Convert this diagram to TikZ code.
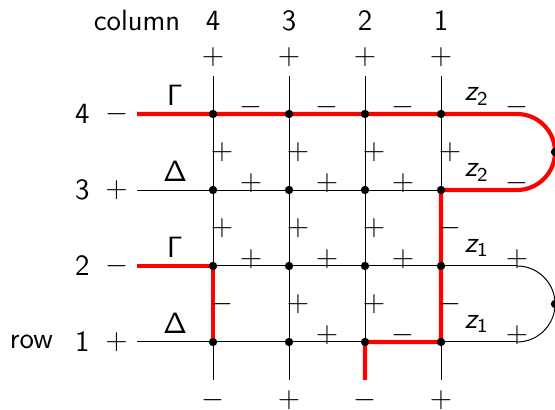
\documentclass[tikz,border=0pt]{standalone}
\usepackage{amsmath}
\renewcommand{\familydefault}{\sfdefault}
\tikzstyle{grid-line} = [black, line width=0.4pt]
\tikzstyle{red-path} = [red, line width=1.7pt]
\tikzstyle{vert-dot} = [circle, fill=black, inner sep=0pt, minimum size=3.4pt]
\tikzstyle{edge-sign} = [inner sep=0pt]
\tikzstyle{side-label} = [inner sep=1pt]
\newcommand{\zlab}[1]{$\textit{z}_{\textup{#1}}$}

\begin{document}
\begin{tikzpicture}[x=1.09cm, y=1.09cm, font=\large]
\useasboundingbox (-2.803,-0.882) rectangle (4.5,4.5);

% column c at x = 4-c, row r at y = r-1
\foreach \c in {1,...,4} {
  \foreach \r in {1,...,4}
    \coordinate (p\c\r) at (4-\c,\r-1);
  \coordinate (t\c) at (4-\c,3.5);
  \coordinate (b\c) at (4-\c,-0.5);
}
\foreach \r in {1,...,4} {
  \coordinate (l\r) at (-1,\r-1);
  \coordinate (e\r) at (4,\r-1);
}
\coordinate (k1) at (4.5,0.5);
\coordinate (k2) at (4.5,2.5);

% lines
\foreach \c in {1,...,4}
  \draw[grid-line] (t\c) -- (b\c);
\foreach \r in {1,2,3}
  \draw[grid-line] (l\r) -- (e\r);
\draw[grid-line] (e2) arc[start angle=90, end angle=-90, radius=0.5];
\draw[red-path] (l4) -- (e4) arc[start angle=90, end angle=-90, radius=0.5]
  -- (p13) -- (p11) -- (p21) -- (b2);
\draw[red-path] (l2) -- (p42) -- (p41);

\foreach \c in {1,...,4}
  \foreach \r in {1,...,4}
    \node[vert-dot] (d\c\r) at (p\c\r) {};
\node[vert-dot] (tip1) at (k1) {};
\node[vert-dot] (tip2) at (k2) {};

% border labels
\node[side-label, anchor=base] (col-label) at (-1,4.105) {column};
\node[side-label] (row-label) at (-2.39,0) {row};
\foreach \c/\s in {4/-,3/+,2/-,1/+} {
  \node[side-label, anchor=base] (col\c) at (4-\c,4.105) {\c};
  \node[edge-sign] (top\c) at (4-\c,3.75) {$+$};
  \node[edge-sign] (bot\c) at (4-\c,-0.76) {$\s$};
}
\foreach \r/\s in {4/-,3/+,2/-,1/+} {
  \node[side-label] (row\r) at (-1.72,\r-1) {\r};
  \node[edge-sign] (left\r) at (-1.27,\r-1) {$\s$};
}
\node (gam4) at (-0.5,3.25) {$\mathsf{\Gamma}$};
\node (del3) at (-0.5,2.24) {$\mathsf{\Delta}$};
\node (gam2) at (-0.5,1.25) {$\mathsf{\Gamma}$};
\node (del1) at (-0.5,0.24) {$\mathsf{\Delta}$};
\node (z4) at (3.47,3.23) {\zlab{2}};
\node (z3) at (3.47,2.23) {\zlab{2}};
\node (z2) at (3.47,1.24) {\zlab{1}};
\node (z1) at (3.47,0.24) {\zlab{1}};

% signs on the edges
\foreach \px/\py/\s [count=\i] in {0.5/3/-, 1.5/3/-, 2.5/3/-, 4/3/-,
    0.5/2/+, 1.5/2/+, 2.5/2/+, 4/2/-, 0.5/1/+, 1.5/1/+, 2.5/1/+, 4/1/+,
    1.5/0/+, 2.5/0/-, 4/0/+}
  \node[edge-sign] (hs\i) at (\px,\py+0.09) {$\s$};
\foreach \px/\py/\s [count=\i] in {0/2.5/+, 1/2.5/+, 2/2.5/+, 3/2.5/+,
    0/1.5/+, 1/1.5/+, 2/1.5/+, 3/1.5/-, 0/0.5/-, 1/0.5/+, 2/0.5/+, 3/0.5/-}
  \node[edge-sign] (vs\i) at (\px+0.12,\py) {$\s$};
\end{tikzpicture}
\end{document}
